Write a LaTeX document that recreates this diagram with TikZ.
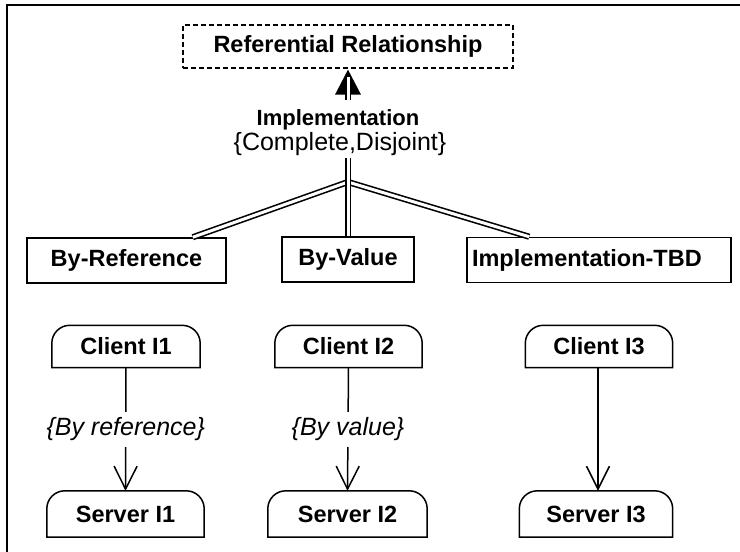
\documentclass[tikz,border=0pt]{standalone}
\usepackage{fontspec}
\setmainfont{Liberation Sans}
\usetikzlibrary{arrows.meta}
\newcommand\toprounded[1]{%
  \draw[line width=1.5pt] (#1.south west) -- ([yshift=-18pt]#1.north west)
    arc[start angle=180, end angle=90, radius=18pt]
    -- ([xshift=-18pt]#1.north east)
    arc[start angle=90, end angle=0, radius=18pt]
    -- (#1.south east) -- cycle;}
\begin{document}
\begin{tikzpicture}[x=1pt,y=-1pt,
  bfont/.style={font=\fontsize{23.5}{26}\selectfont\bfseries},
  box/.style={draw, line width=1.5pt, minimum width=#1, minimum height=45pt, inner sep=0pt, bfont},
  rbox/.style={minimum width=#1, inner sep=0pt, bfont},
  dbl/.style={double=white, double distance=3pt, line width=1.6pt},
  conn/.style={line width=1.5pt, -{Straight Barb[length=23pt, width=23pt, line width=1.5pt]}},
  lbl/.style={fill=white, inner ysep=6pt, inner xsep=2pt, font=\fontsize{25}{28}\selectfont\itshape}]
\useasboundingbox (0,0) rectangle (740,552);
% frame
\draw[line width=2pt] (7,552) -- (7,5) -- (740,5);
% top class
\node[draw, dash pattern=on 5pt off 3pt, line width=1.3pt, minimum width=330pt, minimum height=43pt, inner sep=0pt, bfont] (ref) at (348,46.5) {Referential Relationship};
\node[font=\fontsize{22}{24}\selectfont\bfseries, inner sep=0pt] (impltxt) at (338,120) {Implementation};
\node[font=\fontsize{25}{28}\selectfont, inner sep=0pt] (constr) at (340,144) {\{Complete,Disjoint\}};
\coordinate (arrowbase) at (348,100);
\coordinate (vtop) at (348,158);
\coordinate (junc) at (348,182);
% subclasses
\node[box=199pt] (byref) at (126.5,260.5) {By-Reference};
\node[box=132pt] (byval) at (348,259.5) {By-Value};
\node[box=264pt, text width=254pt, align=left, inner xsep=5pt] (impl) at (599,260) {Implementation-TBD};
% generalization lines
\draw[dbl] (junc) -- ([xshift=-34pt]byref.north east);
\draw[dbl] (junc) -- ([xshift=63pt]impl.north west);
\draw[dbl] (vtop) -- (byval.north);
% arrow to referential relationship
\fill ([yshift=-1pt]ref.south) -- ++(-13,25) -- ++(26,0) -- cycle;
\draw[dbl] (arrowbase) -- ([yshift=-8pt]ref.south);
% clients and servers
\node[rbox=148pt, minimum height=42pt] (c1) at (126,346.5) {Client I1};
\node[rbox=147pt, minimum height=42pt] (c2) at (348.5,346.5) {Client I2};
\node[rbox=147pt, minimum height=42pt] (c3) at (599,346.5) {Client I3};
\node[rbox=157pt, minimum height=46pt] (s1) at (125.5,514) {Server I1};
\node[rbox=159pt, minimum height=46pt] (s2) at (347.5,514) {Server I2};
\node[rbox=153pt, minimum height=46pt] (s3) at (596,514) {Server I3};
\toprounded{c1}\toprounded{c2}\toprounded{c3}
\toprounded{s1}\toprounded{s2}\toprounded{s3}
\draw[conn] (c1.south) -- node[lbl] {\{By reference\}} (s1.north);
\draw[conn] (c2.south) -- node[lbl] {\{By value\}} (s2.north);
\draw[conn] (c3.south -| 598,0) -- (s3.north -| 598,0);
\end{tikzpicture}
\end{document}
